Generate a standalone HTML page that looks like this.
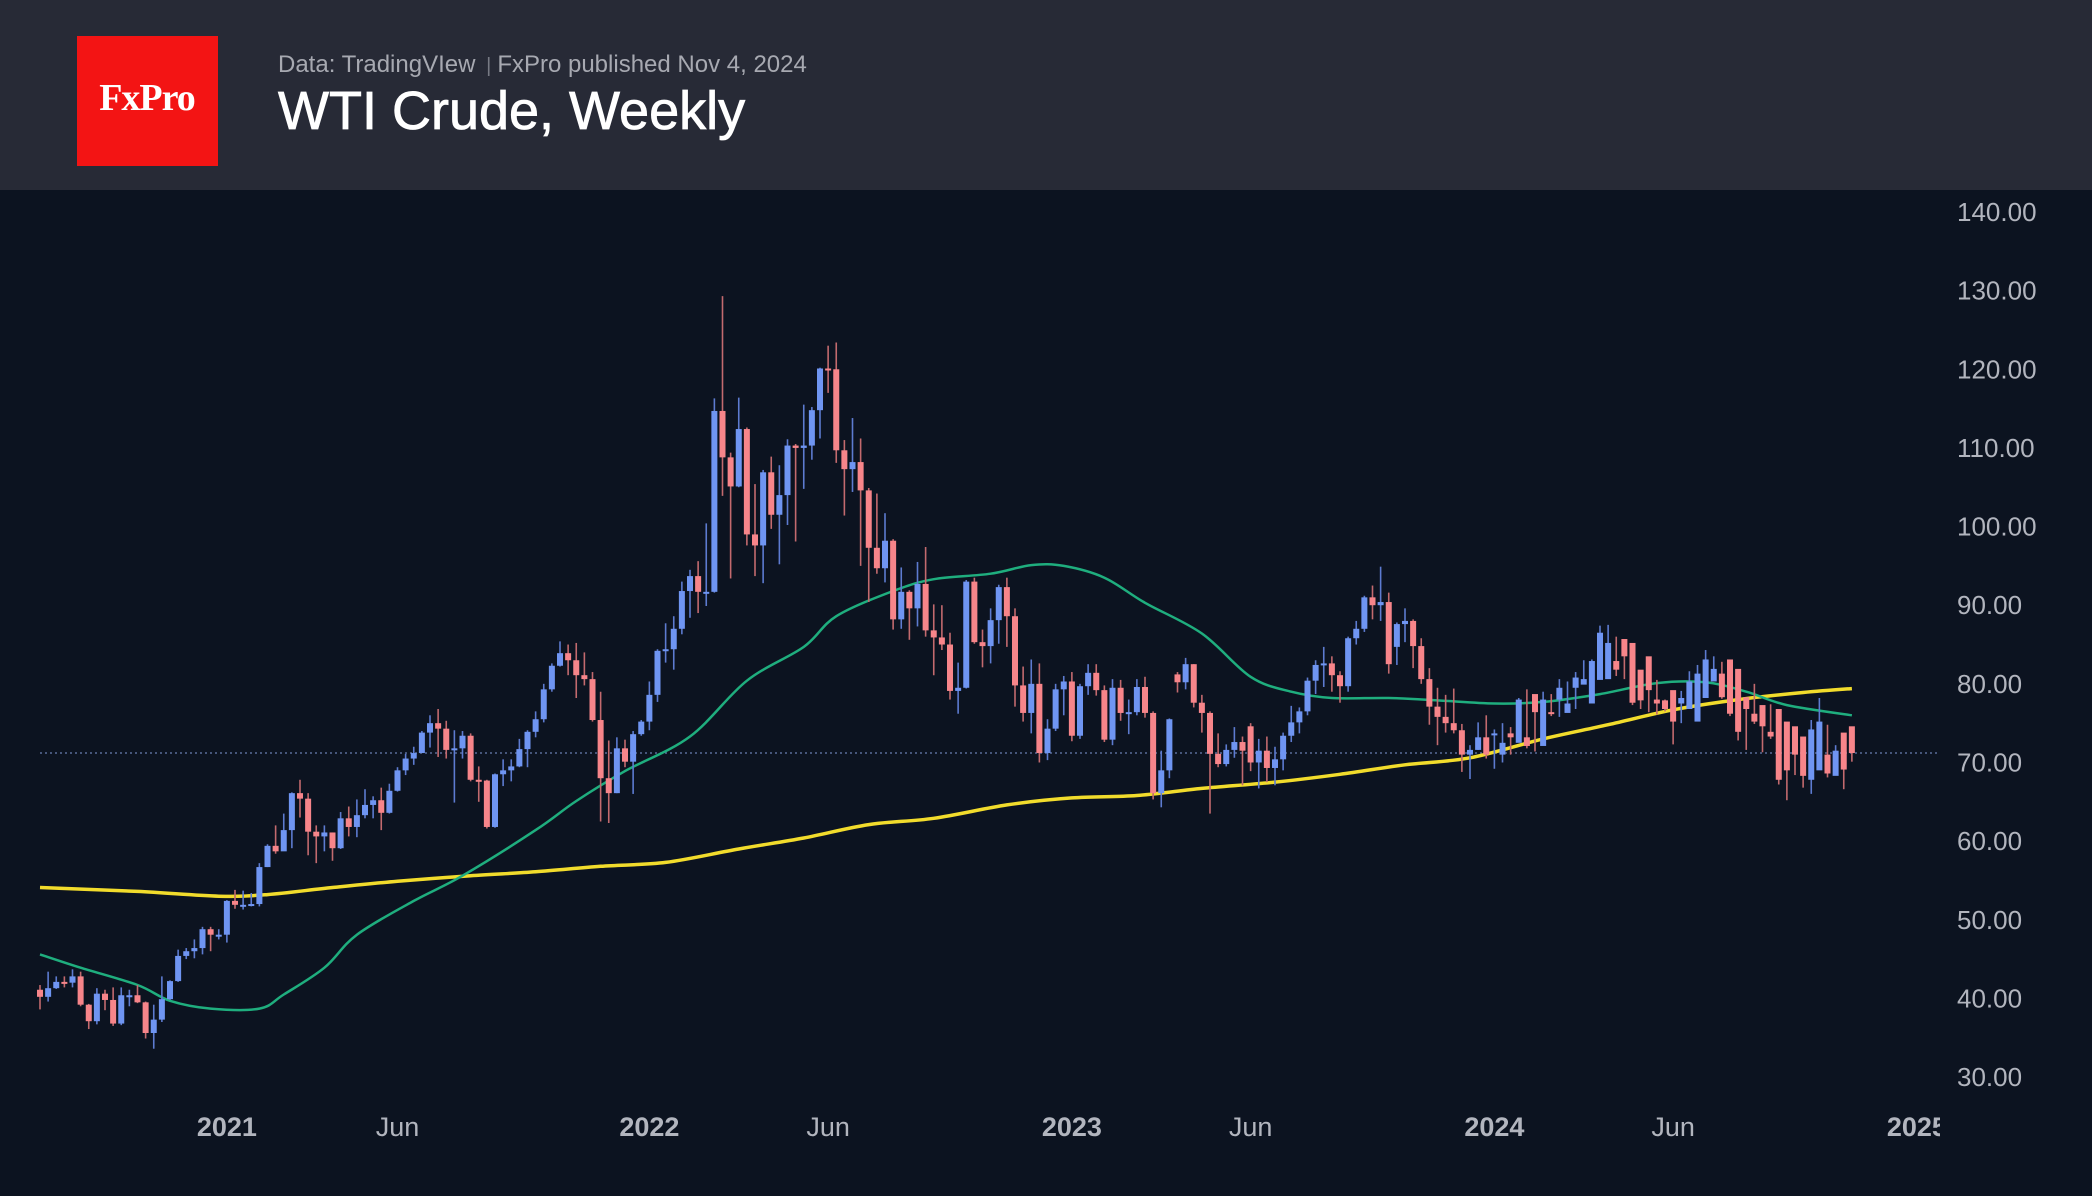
<!DOCTYPE html>
<html><head><meta charset="utf-8"><style>
html,body{margin:0;padding:0;background:#0c1320;}
svg{display:block;}
</style></head><body>
<svg id="chart" width="2092" height="1196" viewBox="0 0 2092 1196" xmlns="http://www.w3.org/2000/svg">
<rect x="0" y="0" width="2092" height="1196" fill="#0c1320"/>
<rect x="0" y="0" width="2092" height="190" fill="#272a36"/>
<rect x="77" y="36" width="141" height="130" fill="#f31414"/>
<text x="147" y="110" text-anchor="middle" font-family="Liberation Serif, serif" font-size="38" font-weight="bold" fill="#ffffff" letter-spacing="-1">FxPro</text>
<text x="278" y="72" font-family="Liberation Sans, sans-serif" font-size="24" fill="#a7a9b1">Data: TradingVIew <tspan fill="#777a84" font-size="20" dx="4">|</tspan><tspan dx="6">FxPro published Nov 4, 2024</tspan></text>
<text x="278" y="129" font-family="Liberation Sans, sans-serif" font-size="54" fill="#ffffff" stroke="#ffffff" stroke-width="0.8">WTI Crude, Weekly</text>
<g id="plot"></g>
</svg>
<script>
const opens=[41.1,40.2,41.3,42.1,42.0,42.8,39.2,37.1,40.6,39.8,36.8,40.4,40.4,39.5,35.6,37.3,39.9,42.2,45.4,46.0,46.4,48.8,48.1,48.1,52.4,51.9,51.9,52.0,56.7,59.4,58.7,61.4,66.1,65.4,61.2,60.6,61.1,59.1,62.9,61.8,63.3,64.6,65.2,63.6,66.4,69.0,70.5,71.2,73.8,75.0,74.3,71.6,71.8,73.4,67.8,67.7,61.8,68.5,69.0,69.5,71.7,73.9,75.5,79.3,82.3,83.9,83.0,81.1,80.6,75.4,68.0,66.1,71.8,70.1,73.6,75.2,78.6,84.2,84.4,87.0,91.8,93.7,91.7,91.7,114.7,108.8,105.1,112.4,99.0,97.6,106.9,101.5,104.0,110.3,110.0,110.3,114.8,120.1,120.0,109.7,107.3,108.2,104.6,97.3,94.7,98.2,88.2,91.7,89.6,92.7,86.8,85.9,85.0,79.1,79.5,93.0,85.3,84.8,88.1,92.3,88.6,79.8,76.3,80.0,71.2,74.3,79.3,80.3,73.4,79.7,81.4,79.2,72.9,79.5,76.3,76.4,79.6,76.3,66.1,69.0,81.2,80.2,82.5,77.6,76.3,71.1,69.8,71.6,72.6,74.6,70.0,71.5,69.3,70.4,73.4,75.1,76.5,80.4,82.4,82.6,81.1,79.7,85.8,87.0,91.0,90.0,90.4,84.7,87.6,88.0,84.8,80.6,77.1,75.8,75.0,74.1,71.0,71.6,73.2,73.6,71.0,73.7,72.5,73.2,78.7,72.1,76.4,78.0,76.3,79.5,79.9,77.5,80.5,80.6,82.9,85.7,85.2,81.8,83.5,78.0,77.9,79.2,77.5,76.8,75.2,78.2,80.3,81.3,83.1,81.9,78.3,76.2,77.3,73.9,76.8,75.2,74.6,73.3,67.8,69.0,71.0,68.3,73.8,74.6,68.6,67.8,70.2];
const closes=[40.2,41.3,42.1,42.0,42.8,39.2,37.1,40.6,39.8,36.8,40.4,40.4,39.5,35.6,37.3,39.9,42.2,45.4,46.0,46.4,48.8,48.1,48.1,52.4,51.9,51.9,52.0,56.7,59.4,58.7,61.4,66.1,65.4,61.2,60.6,61.1,59.1,62.9,61.8,63.3,64.6,65.2,63.6,66.4,69.0,70.5,71.2,73.8,75.0,74.3,71.6,71.8,73.4,67.8,67.7,61.8,68.5,69.0,69.5,71.7,73.9,75.5,79.3,82.3,83.9,83.0,81.1,80.6,75.4,68.0,66.1,71.8,70.1,73.6,75.2,78.6,84.2,84.4,87.0,91.8,93.7,91.7,91.7,114.7,108.8,105.1,112.4,99.0,97.6,106.9,101.5,104.0,110.3,110.0,110.3,114.8,120.1,120.0,109.7,107.3,108.2,104.6,97.3,94.7,98.2,88.2,91.7,89.6,92.7,86.8,85.9,85.0,79.1,79.5,93.0,85.3,84.8,88.1,92.3,88.6,79.8,76.3,80.0,71.2,74.3,79.3,80.3,73.4,79.7,81.4,79.2,72.9,79.5,76.3,76.4,79.6,76.3,66.1,69.0,75.5,80.2,82.5,77.6,76.3,71.1,69.8,71.6,72.6,71.5,70.0,71.5,69.3,70.4,73.4,75.1,76.5,80.4,82.4,82.6,81.1,79.7,85.8,87.0,91.0,90.0,90.4,82.5,87.6,88.0,84.8,80.6,77.1,75.8,75.0,74.1,71.0,71.6,73.2,71.0,73.7,72.5,73.2,78.0,72.1,76.4,78.0,76.3,79.5,77.5,80.8,80.6,82.9,86.5,85.2,81.8,83.5,77.6,77.9,79.2,77.5,76.8,75.2,78.2,80.3,81.3,83.1,81.9,78.3,76.2,73.9,76.8,75.2,74.6,73.3,67.8,69.0,71.0,68.3,74.2,75.2,68.6,71.5,69.1,71.2];
const highs=[41.7,43.4,42.8,42.8,43.7,43.4,39.3,41.3,41.1,41.4,41.4,41.1,41.7,39.6,39.2,42.8,42.3,46.2,46.4,47.5,49.1,49.1,48.8,52.5,53.8,53.7,53.4,57.2,59.6,62.0,63.5,66.2,67.8,66.1,62.0,62.0,61.1,63.7,64.4,65.3,66.6,65.7,66.8,67.3,69.4,71.1,72.0,74.0,76.0,76.8,75.3,74.1,74.0,73.7,69.5,67.8,68.6,70.4,70.4,73.0,74.1,76.5,80.0,82.6,85.4,85.0,85.2,84.0,81.5,79.0,72.8,73.2,72.9,74.0,75.4,80.3,84.4,87.7,88.6,93.0,94.5,95.6,100.4,116.3,129.3,109.4,116.4,112.6,105.4,107.2,108.9,107.8,111.1,110.5,115.5,115.2,120.2,123.0,123.4,111.0,113.8,111.2,104.9,104.2,101.7,98.4,94.8,91.9,95.5,97.4,90.1,90.0,86.5,82.7,93.2,93.5,86.9,89.6,92.6,93.5,89.6,82.2,83.1,82.6,75.5,80.0,81.0,81.5,80.0,82.5,82.5,79.8,80.6,80.5,78.0,80.6,80.9,76.5,71.5,75.6,81.5,83.3,82.5,78.6,76.5,73.7,72.3,74.5,73.3,75.0,73.0,73.3,72.0,73.8,77.2,77.0,80.8,83.0,84.7,83.5,81.6,86.0,88.0,91.2,92.5,94.9,91.6,87.8,89.6,88.2,85.8,82.0,79.5,78.6,79.4,74.9,72.2,75.1,76.0,74.2,75.0,74.5,78.2,79.3,76.9,79.0,78.7,80.6,80.3,81.5,83.0,83.1,87.4,87.5,86.0,84.3,84.4,79.8,79.5,80.5,78.0,77.0,79.1,81.6,82.4,84.3,83.5,82.8,78.8,78.6,77.0,80.0,75.5,77.4,74.2,70.4,71.4,72.2,75.4,78.2,74.8,72.2,71.2,71.6];
const lows=[38.6,39.6,41.2,41.4,41.4,39.0,36.1,36.7,38.5,36.5,36.6,39.0,39.4,34.9,33.6,37.0,39.8,42.1,45.0,45.1,45.6,46.0,47.5,47.1,51.4,51.3,51.7,51.7,56.7,58.4,58.9,59.1,63.0,58.2,57.2,58.7,57.5,59.0,60.6,60.5,62.9,62.9,61.4,63.5,66.3,68.4,69.7,71.9,71.9,70.7,70.5,64.9,70.5,67.6,65.0,61.6,61.7,67.0,67.6,69.4,69.4,73.2,75.1,79.0,82.2,81.1,78.2,79.8,75.2,62.5,62.3,66.1,69.4,66.0,73.4,74.1,77.7,82.7,81.8,86.3,88.4,89.0,89.9,91.6,103.9,93.4,105.0,97.6,93.7,92.8,99.7,95.2,100.2,98.1,104.8,108.5,111.2,117.0,108.1,101.4,104.4,95.0,90.4,94.0,92.9,86.9,87.0,85.6,87.3,86.0,81.1,84.3,78.0,76.2,79.4,85.1,82.1,82.6,85.1,84.7,77.1,75.2,73.7,70.0,70.3,74.0,76.0,72.7,73.0,78.6,78.5,72.6,72.2,75.3,73.6,76.0,75.7,65.3,64.3,68.0,78.9,79.3,77.0,73.8,63.5,69.4,69.5,70.6,67.1,68.9,66.7,67.5,67.1,69.0,72.6,73.7,76.0,78.7,79.6,79.0,77.6,79.0,85.0,86.6,88.2,88.0,81.3,82.4,85.3,82.0,80.0,74.8,72.2,73.8,73.7,68.8,67.9,71.6,70.5,69.2,70.0,71.0,72.7,71.8,71.4,75.4,75.9,75.8,77.0,76.8,80.0,80.4,82.6,84.5,81.0,80.6,77.3,76.8,76.4,76.1,76.5,72.3,75.0,78.0,80.2,81.0,80.7,78.1,75.9,72.8,71.6,74.9,71.3,73.0,67.2,65.2,68.4,66.8,66.0,71.3,68.1,68.5,66.6,70.1];
const fastMaWeeks=[0,5,12,16,21,27,30,35,39,46,52,61,66,72,80,87,94,98,105,110,117,122,126,131,136,143,149,154,159,166,172,179,185,192,199,205,210,215,223];
const fastMaValues=[45.6,43.9,41.7,39.7,38.7,38.7,40.5,43.9,48.1,52.4,55.6,61.4,65.1,68.9,73.3,80.4,84.7,88.6,91.8,93.3,94.0,95.1,95.0,93.5,90.3,86.4,80.9,79.0,78.2,78.2,77.9,77.5,77.7,78.7,80.1,80.2,79.0,77.3,76.0];
const slowMaWeeks=[0,12,22,28,36,44,53,61,69,77,86,94,102,110,119,127,135,143,152,160,168,176,185,193,201,209,217,223];
const slowMaValues=[54.1,53.6,53.0,53.2,54.1,54.9,55.6,56.1,56.8,57.3,59.0,60.4,62.1,62.9,64.6,65.5,65.8,66.7,67.5,68.5,69.7,70.6,73.0,74.8,76.7,78.0,78.9,79.4];
const yTicks=[140,130,120,110,100,90,80,70,60,50,40,30];
const xTickWeeks=[23,44,75,97,127,149,179,201,231];
const xTickLabels=["2021","Jun","2022","Jun","2023","Jun","2024","Jun","2025"];
const xTickBold=[true,false,true,false,true,false,true,false,true];
const lastPrice=71.2;

const NS="http://www.w3.org/2000/svg";
const plot=document.getElementById('plot');
const xPos=i=>40+i*8.125;
const yPos=v=>212+(140-v)*7.864;
function mk(tag,attrs){const e=document.createElementNS(NS,tag);for(const k in attrs)e.setAttribute(k,attrs[k]);return e;}

const defs=mk('defs',{});const cp=mk('clipPath',{id:'pc'});cp.appendChild(mk('rect',{x:0,y:190,width:1940,height:1006}));defs.appendChild(cp);plot.appendChild(defs);
const area=mk('g',{'clip-path':'url(#pc)'});


plot.appendChild(area);

const pl=mk('line',{x1:40,x2:1940,y1:yPos(lastPrice),y2:yPos(lastPrice),stroke:'#5a6c99','stroke-width':1.5,'stroke-dasharray':'2 3'});


area.appendChild(pl);

// smooth path (Catmull-Rom -> Bezier)
function maPath(ws,vs){
  const p=ws.map((w,k)=>[xPos(w),yPos(vs[k])]);
  let d='M'+p[0][0].toFixed(1)+' '+p[0][1].toFixed(1);
  for(let i=0;i<p.length-1;i++){
    const p0=p[i-1]||p[i],p1=p[i],p2=p[i+1],p3=p[i+2]||p2;
    const c1=[p1[0]+(p2[0]-p0[0])/6,p1[1]+(p2[1]-p0[1])/6];
    const c2=[p2[0]-(p3[0]-p1[0])/6,p2[1]-(p3[1]-p1[1])/6];
    d+=' C'+c1[0].toFixed(1)+' '+c1[1].toFixed(1)+' '+c2[0].toFixed(1)+' '+c2[1].toFixed(1)+' '+p2[0].toFixed(1)+' '+p2[1].toFixed(1);
  }
  return d;
}
const slow=mk('path',{d:maPath(slowMaWeeks,slowMaValues),fill:'none',stroke:'#f2dc2c','stroke-width':3.5,'stroke-linejoin':'round'});


area.appendChild(slow);
const fast=mk('path',{d:maPath(fastMaWeeks,fastMaValues),fill:'none',stroke:'#1fae7e','stroke-width':2.5,'stroke-linejoin':'round'});


area.appendChild(fast);

for(let i=0;i<closes.length;i++){
  const up=closes[i]>=opens[i];
  const g=mk('g',{});
  
  
  const x=xPos(i);
  const w=mk('line',{x1:x,x2:x,y1:yPos(highs[i]),y2:yPos(lows[i]),stroke:up?'#5d7bd0':'#c36a6e','stroke-width':1.6});
  
  
  g.appendChild(w);
  const top=yPos(Math.max(opens[i],closes[i]));
  const h=Math.max(2,Math.abs(yPos(opens[i])-yPos(closes[i])));
  const b=mk('rect',{x:x-3,y:top,width:6,height:h,fill:up?'#6f95f2':'#f7858a'});
  
  
  g.appendChild(b);
  area.appendChild(g);
}

yTicks.forEach(v=>{
  const t=mk('text',{x:1957,y:yPos(v)+9,'font-family':'Liberation Sans, sans-serif','font-size':26,fill:'#b2b5be'});
  t.textContent=v.toFixed(2);
  
  
  plot.appendChild(t);
});
const xg=mk('g',{'clip-path':'url(#pc)'});plot.appendChild(xg);
xTickWeeks.forEach((w,k)=>{
  const t=mk('text',{x:xPos(w),y:1136,'text-anchor':'middle','font-family':'Liberation Sans, sans-serif','font-size':27,'font-weight':xTickBold[k]?'bold':'normal',fill:'#b2b5be'});
  t.textContent=xTickLabels[k];
  
  
  xg.appendChild(t);
});
</script>
</body></html>
